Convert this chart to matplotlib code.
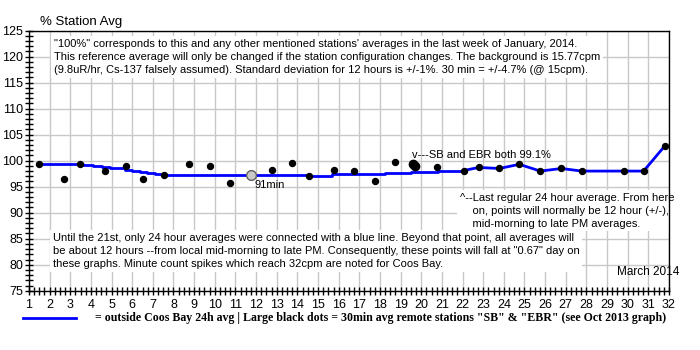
import matplotlib.pyplot as plt
from matplotlib.lines import Line2D
from matplotlib.ticker import MultipleLocator

# 24h average (blue), drawn as steps until the 21st
step_x = [1.5, 3.64, 4.12, 4.53, 4.93, 5.26, 5.66, 5.98, 6.39, 6.71, 7.12, 7.52,
          14.56, 15.7, 17.0, 18.23, 19.5, 20.79, 22.05]
step_y = [99.4, 99.2, 99.0, 98.85, 98.65, 98.5, 98.3, 98.1, 97.9, 97.7, 97.5, 97.3,
          97.05, 97.4, 97.5, 97.7, 97.9, 98.1, 98.1]

# 12 hour averages after the 21st (blue line with dots)
half_x = [22.05, 22.78, 23.78, 24.75, 25.77, 26.79, 27.78, 29.82, 30.77, 31.79]
half_y = [98.1, 98.7, 98.5, 99.3, 98.0, 98.5, 98.0, 98.0, 98.0, 102.8]

# daily dots
dot_x = [1.5, 2.71, 3.49, 4.70, 5.71, 6.50, 7.52, 8.73, 9.75, 10.72, 12.76, 13.72,
         14.56, 15.77, 16.74, 17.76, 18.73, 20.77]
dot_y = [99.4, 96.4, 99.3, 98.0, 98.9, 96.4, 97.2, 99.3, 98.9, 95.8, 98.3, 99.5,
         97.0, 98.2, 98.0, 96.0, 99.7, 98.7]

# remote stations SB / EBR (large dots)
remote_x = [19.6, 19.72]
remote_y = [99.3, 98.9]

# 91 minute average (gray)
gray_x = [11.73]
gray_y = [97.25]

plt.rcParams['font.family'] = ['Liberation Sans', 'DejaVu Sans']

fig = plt.figure(figsize=(7, 3.5), dpi=100)
ax = fig.add_axes([0.0414, 0.1694, 0.9143, 0.743])

ax.set_xlim(1, 32)
ax.set_ylim(75, 125)
ax.xaxis.set_major_locator(MultipleLocator(1))
ax.xaxis.set_minor_locator(MultipleLocator(0.25))
ax.yaxis.set_major_locator(MultipleLocator(5))
ax.yaxis.set_minor_locator(MultipleLocator(1))
ax.tick_params(which='both', direction='inout', length=6, width=1, labelsize=9, pad=1)
ax.tick_params(axis='x', pad=3)
ax.grid(True, which='major', color='#c8c8c8', linewidth=1)
ax.set_axisbelow(True)
for s in ax.spines.values():
    s.set_linewidth(1)

ax.plot(step_x, step_y, color='#0000ff', lw=2, drawstyle='steps-post', zorder=3)
ax.plot(half_x, half_y, color='#0000ff', lw=2, zorder=3)
ax.plot(half_x, half_y, 'o', color='black', ms=4.3, zorder=4)
ax.plot(dot_x, dot_y, 'o', color='black', ms=4.3, zorder=4)
ax.plot(remote_x, remote_y, 'o', color='black', ms=6, zorder=4)
ax.plot(gray_x, gray_y, 'o', mfc='#c8c8c8', mec='#606060', ms=7, zorder=4)

box = dict(facecolor='white', edgecolor='none', pad=2)
fs = 8
ls = 1.36
ax.text(2.21, 123.4,
        '"100%" corresponds to this and any other mentioned stations\' averages in the last week of January, 2014.\n'
        'This reference average will only be changed if the station configuration changes. The background is 15.77cpm\n'
        '(9.8uR/hr, Cs-137 falsely assumed). Standard deviation for 12 hours is +/-1%. 30 min = +/-4.7% (@ 15cpm).',
        fontsize=fs, va='top', ha='left', linespacing=ls, bbox=box, zorder=2)
ax.text(19.55, 101.15, 'v---SB and EBR both 99.1%', fontsize=fs, va='center', ha='left', zorder=5)
ax.text(21.87, 93.8,
        '^--Last regular 24 hour average. From here\n'
        '    on, points will normally be 12 hour (+/-),\n'
        '    mid-morning to late PM averages.',
        fontsize=fs, va='top', ha='left', linespacing=ls, bbox=box, zorder=2)
ax.text(2.16, 86.1,
        'Until the 21st, only 24 hour averages were connected with a blue line. Beyond that point, all averages will\n'
        'be about 12 hours --from local mid-morning to late PM. Consequently, these points will fall at "0.67" day on\n'
        'these graphs. Minute count spikes which reach 32cpm are noted for Coos Bay.',
        fontsize=fs, va='top', ha='left', linespacing=ls, bbox=box, zorder=2)
ax.text(11.94, 95.3, '91min', fontsize=fs, va='center', ha='left', zorder=5)
ax.text(29.47, 78.6, 'March 2014', fontsize=8.5, va='center', ha='left', zorder=2, clip_on=False)

fig.text(0.057, 0.937, '% Station Avg', fontsize=9.5, va='center', ha='left')

fig.add_artist(Line2D([0.033, 0.109], [0.0914, 0.0914], color='#0000ff', lw=2))
fig.text(0.136, 0.0914,
         '= outside Coos Bay 24h avg | Large black dots = 30min avg remote stations "SB" & "EBR" (see Oct 2013 graph)',
         fontsize=8.6, fontweight='bold', family=['Liberation Serif'], va='center', ha='left')

fig.savefig('out.png', dpi=100)
